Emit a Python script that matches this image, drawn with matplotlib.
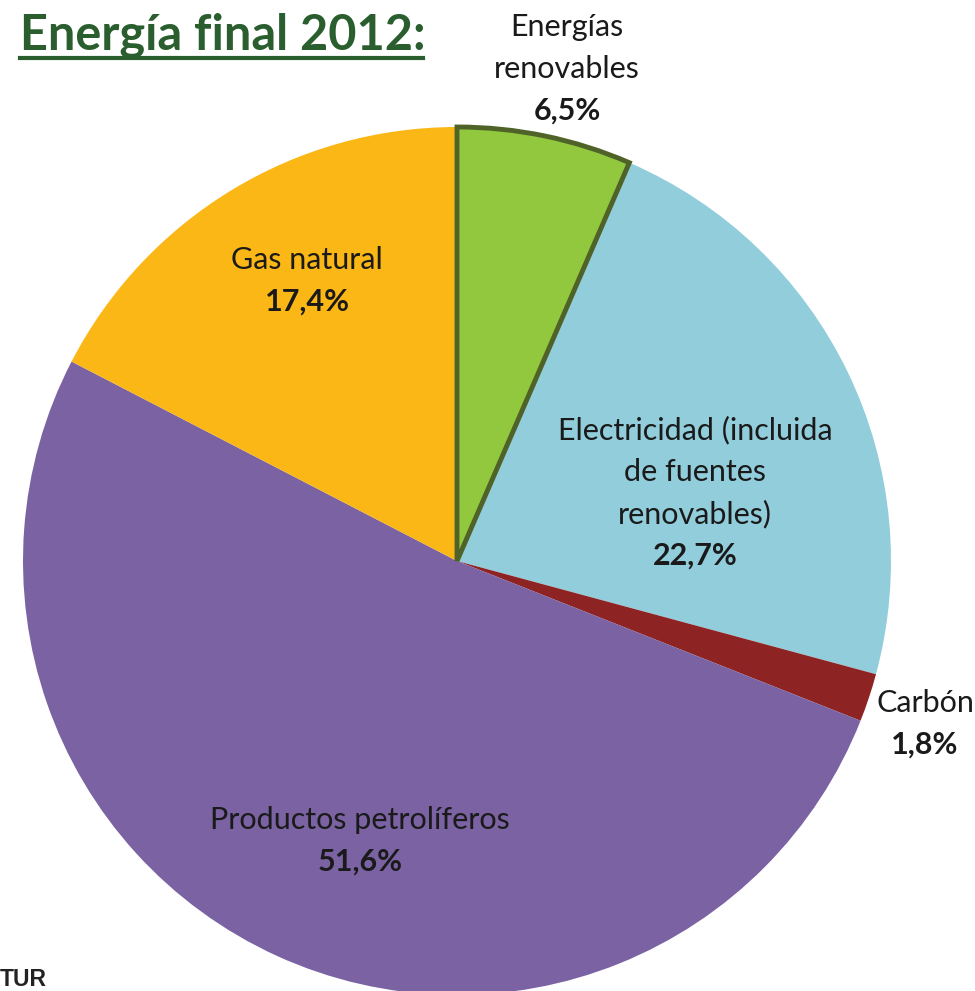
import matplotlib
matplotlib.use("Agg")
import matplotlib.pyplot as plt
from matplotlib.lines import Line2D

categories = ["Energías\nrenovables", "Electricidad (incluida\nde fuentes\nrenovables)",
              "Carbón", "Productos petrolíferos", "Gas natural"]
values = [6.5, 22.7, 1.8, 51.6, 17.4]
pct_labels = ["6,5%", "22,7%", "1,8%", "51,6%", "17,4%"]
colors = ["#92C83E", "#92CDDC", "#8E2323", "#7A62A3", "#FBB715"]
title = "Energía final 2012:"

W, H = 975, 991
fig = plt.figure(figsize=(W / 100, H / 100), dpi=100)
fig.patch.set_facecolor("white")

cx, cy, r = 457, 561, 434
ax = fig.add_axes([(cx - r) / W, (H - cy - r) / H, 2 * r / W, 2 * r / H])
wedges, _ = ax.pie(values, colors=colors, startangle=90, counterclock=False,
                   radius=1.0, wedgeprops=dict(linewidth=0))
wedges[0].set_edgecolor("#4F6228")
wedges[0].set_linewidth(3.5)
wedges[0].set_zorder(5)
ax.set_xlim(-1, 1)
ax.set_ylim(-1, 1)
ax.set_aspect("equal")
ax.axis("off")

def fx(x):
    return x / W

def fy(y):
    return 1 - y / H

font = "Lato"
fs = 22
lh = 42
# label positions (pixel centers of first line)
label_pos = [(567, 27), (695, 430), (925, 703), (360, 820), (307, 260)]
for cat, pct, (x, y) in zip(categories, pct_labels, label_pos):
    lines = cat.split("\n")
    for i, ln in enumerate(lines):
        fig.text(fx(x), fy(y + i * lh), ln, ha="center", va="center",
                 fontsize=fs, family=font, color="#1a1a1a")
    fig.text(fx(x), fy(y + len(lines) * lh), pct, ha="center", va="center",
             fontsize=fs, family=font, fontweight="bold", color="#1a1a1a")

# title
fig.text(fx(20), fy(35), title, ha="left", va="center", fontsize=35,
         family=font, fontweight="bold", color="#2A5E2E")
fig.add_artist(Line2D([fx(20), fx(423)], [fy(58), fy(58)], color="#2A5E2E",
                      linewidth=3, transform=fig.transFigure))

fig.text(fx(0), fy(979), "TUR", ha="left", va="center", fontsize=16.5,
         family="Liberation Sans", fontweight="bold", color="#222222")

fig.savefig("out.png", dpi=100)
